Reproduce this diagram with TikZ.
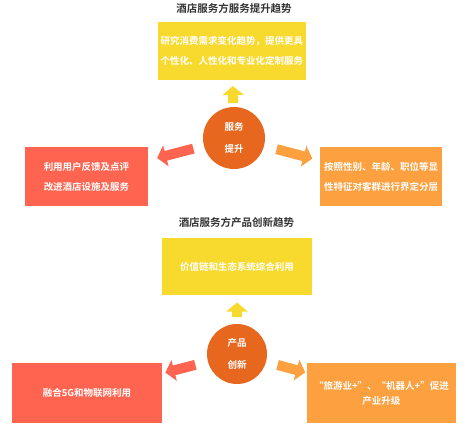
\documentclass[tikz,border=0pt]{standalone}
\usepackage{fontspec}
\setmainfont{Noto Sans CJK SC}[BoldFont={Noto Sans CJK SC Bold}]
\usetikzlibrary{arrows.meta}

\definecolor{boxyellow}{HTML}{F8DA2F}
\definecolor{boxred}{HTML}{FF6450}
\definecolor{boxorange}{HTML}{FDA040}
\definecolor{hubcolor}{HTML}{E8671F}
\definecolor{titlegray}{HTML}{333333}

\begin{document}
\begin{tikzpicture}[x=1pt,y=-1pt,
        box/.style={inner sep=0pt,text=white,align=center,
            font=\bfseries\fontsize{9.5}{20}\selectfont},
        hub/.style={circle,fill=hubcolor,minimum size=62pt,inner sep=0pt,
            text=white,align=center,font=\bfseries\fontsize{9.5}{22}\selectfont},
        title/.style={text=titlegray,font=\bfseries\fontsize{10.5}{12}\selectfont},
        blockarrow/.style={line width=10pt,-{Triangle[width=21pt,length=9pt]}}]

    \useasboundingbox (0,0) rectangle (467,437);

    % Upper part
    \node[title] (t1) at (234,8) {酒店服务方服务提升趋势};
    \node[box,fill=boxyellow,minimum width=148pt,minimum height=58pt] (a1) at (232,51)
        {研究消费需求变化趋势，提供更具\\个性化、人性化和专业化定制服务};
    \node[hub] (c1) at (234,138) {服务\\提升};
    \node[box,fill=boxred,minimum width=123pt,minimum height=59pt] (l1) at (86.5,176.5)
        {利用用户反馈及点评\\改进酒店设施及服务};
    \node[box,fill=boxorange,minimum width=122pt,minimum height=59pt] (r1) at (381,176.5)
        {按照性别、年龄、职位等显\\性特征对客群进行界定分层};

    \draw[blockarrow,boxyellow,shorten <=35pt,shorten >=35pt] (c1.center) -- (a1.center);
    \draw[blockarrow,boxred,shorten <=42pt,shorten >=73pt] (c1.center) -- (l1.center);
    \draw[blockarrow,boxorange,shorten <=44pt,shorten >=71pt] (c1.center) -- (r1.center);

    % Lower part
    \node[title] (t2) at (236.5,223) {酒店服务方产品创新趋势};
    \node[box,fill=boxyellow,minimum width=150pt,minimum height=57pt] (a2) at (237,266.5)
        {价值链和生态系统综合利用};
    \node[hub,minimum size=60pt] (c2) at (237,354) {产品\\创新};
    \node[box,fill=boxred,minimum width=150pt,minimum height=60pt] (l2) at (87,393)
        {融合5G和物联网利用};
    \node[box,fill=boxorange,minimum width=149pt,minimum height=60pt,
        font=\bfseries\fontsize{9.5}{15}\selectfont] (r2) at (381.5,393)
        {“旅游业+”、“机器人+”促进\\产业升级};

    \draw[blockarrow,boxyellow,shorten <=37pt,shorten >=36pt] (c2.center) -- (a2.center);
    \draw[blockarrow,boxred,shorten <=43pt,shorten >=81pt] (c2.center) -- (l2.center);
    \draw[blockarrow,boxorange,shorten <=42pt,shorten >=79pt] (c2.center) -- (r2.center);
\end{tikzpicture}
\end{document}
